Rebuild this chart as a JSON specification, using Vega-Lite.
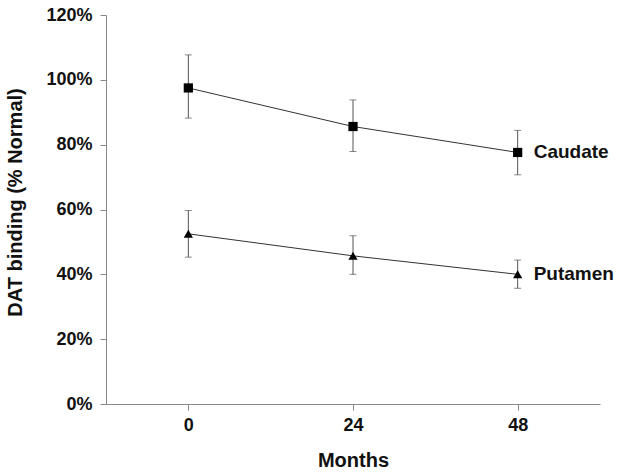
{
  "$schema": "https://vega.github.io/schema/vega-lite/v6.json",
  "autosize": "none",
  "width": 494,
  "height": 389,
  "padding": {"left": 106, "top": 15, "right": 21, "bottom": 71},
  "background": "white",
  "config": {
    "view": {"stroke": null},
    "font": "Liberation Sans",
    "axis": {
      "grid": false,
      "domainColor": "#888888",
      "tickColor": "#888888",
      "labelFont": "Liberation Sans",
      "labelFontWeight": "bold",
      "labelFontSize": 18,
      "labelColor": "#111111",
      "titleFont": "Liberation Sans",
      "titleFontWeight": "bold",
      "titleFontSize": 20,
      "titleColor": "#111111"
    }
  },
  "data": {
    "values": [
      {"region": "Caudate", "month": 0, "value": 0.975, "lo": 0.882, "hi": 1.077},
      {"region": "Caudate", "month": 24, "value": 0.856, "lo": 0.779, "hi": 0.938},
      {"region": "Caudate", "month": 48, "value": 0.776, "lo": 0.707, "hi": 0.844},
      {"region": "Putamen", "month": 0, "value": 0.525, "lo": 0.453, "hi": 0.597},
      {"region": "Putamen", "month": 24, "value": 0.457, "lo": 0.400, "hi": 0.519},
      {"region": "Putamen", "month": 48, "value": 0.400, "lo": 0.357, "hi": 0.444}
    ]
  },
  "encoding": {
    "x": {
      "field": "month",
      "type": "quantitative",
      "scale": {"domain": [-12, 60], "nice": false, "zero": false},
      "axis": {
        "title": "Months",
        "values": [0, 24, 48],
        "tickSize": 6,
        "labelPadding": 6,
        "titlePadding": 16
      }
    }
  },
  "layer": [
    {
      "mark": {"type": "errorbar", "ticks": {"size": 7, "color": "#555555"}, "rule": {"color": "#555555"}, "thickness": 1},
      "encoding": {
        "y": {"field": "lo", "type": "quantitative", "title": "DAT binding (% Normal)", "scale": {"domain": [0, 1.2], "nice": false}},
        "y2": {"field": "hi"},
        "detail": {"field": "region"}
      }
    },
    {
      "mark": {"type": "line", "color": "#333333", "strokeWidth": 1},
      "encoding": {
        "y": {
          "field": "value",
          "type": "quantitative",
          "title": "DAT binding (% Normal)",
          "scale": {"domain": [0, 1.2], "nice": false},
          "axis": {
            "title": "DAT binding (% Normal)",
            "format": ".0%",
            "values": [0, 0.1, 0.2, 0.3, 0.4, 0.5, 0.6, 0.7, 0.8, 0.9, 1.0, 1.1, 1.2],
            "labelExpr": "round(datum.value*100) % 20 == 0 ? datum.label : ''",
            "tickSize": {"condition": {"test": "round(datum.value*100) % 20 == 0", "value": 6}, "value": 3},
            "labelPadding": 8,
            "titlePadding": 20,
            "titleY": 187
          }
        },
        "detail": {"field": "region"}
      }
    },
    {
      "mark": {"type": "point", "filled": true, "color": "#000000", "opacity": 1, "size": 85},
      "encoding": {
        "y": {"field": "value", "type": "quantitative", "title": "DAT binding (% Normal)"},
        "shape": {
          "field": "region",
          "type": "nominal",
          "scale": {"domain": ["Caudate", "Putamen"], "range": ["square", "triangle-up"]},
          "legend": null
        }
      }
    },
    {
      "transform": [{"filter": "datum.month == 48"}],
      "mark": {"type": "text", "align": "left", "baseline": "middle", "dx": 16, "fontSize": 19, "fontWeight": "bold", "font": "Liberation Sans", "color": "#111111"},
      "encoding": {
        "y": {"field": "value", "type": "quantitative", "title": "DAT binding (% Normal)"},
        "text": {"field": "region"}
      }
    }
  ]
}
